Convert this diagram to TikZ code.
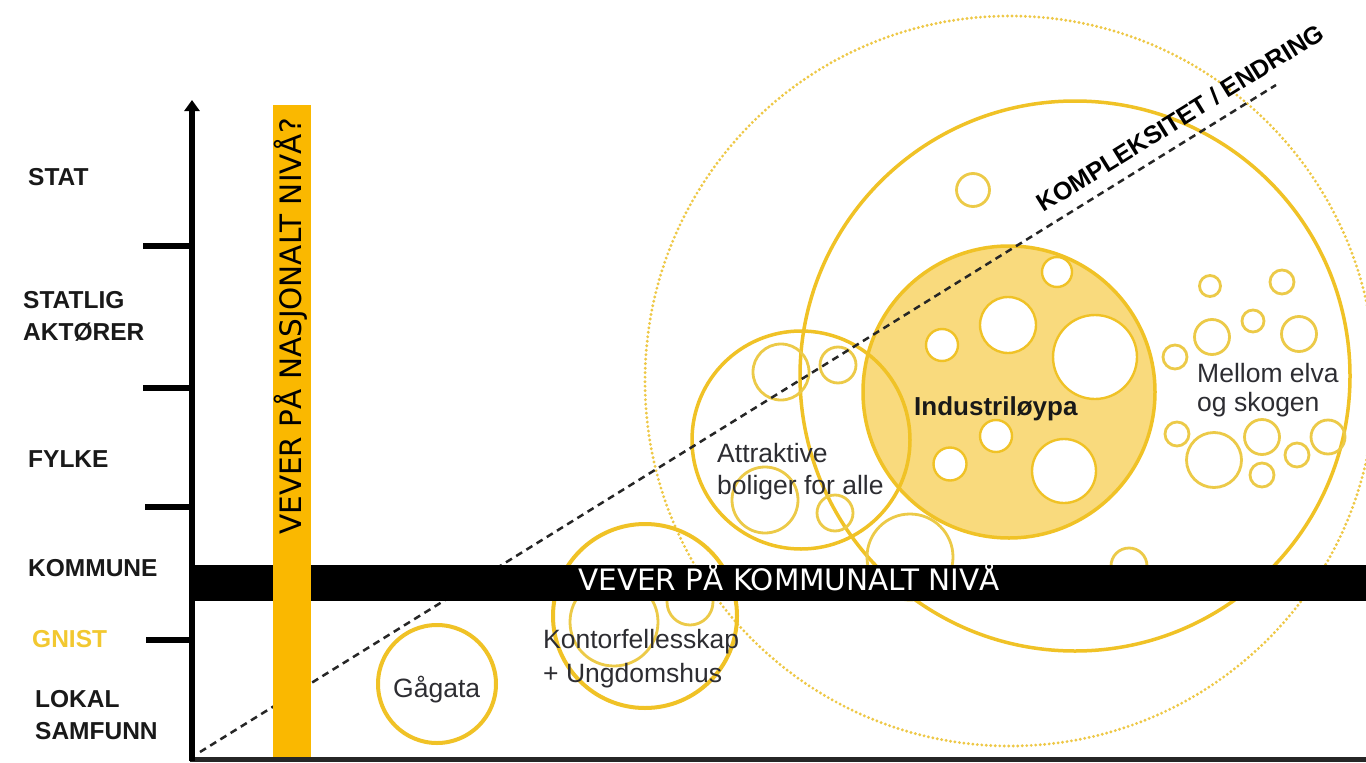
\documentclass[tikz,border=0pt]{standalone}
\usepackage{fontspec}
\setmainfont{DejaVu Sans}
\newfontfamily\arialfont{Liberation Sans}
\usetikzlibrary{arrows.meta}
\definecolor{gold}{RGB}{240,194,38}
\definecolor{goldthin}{RGB}{236,202,72}
\definecolor{goldfill}{RGB}{249,218,125}
\definecolor{dotgold}{RGB}{238,200,70}
\definecolor{barorange}{RGB}{250,184,0}
\definecolor{gnistcol}{RGB}{242,200,48}
\definecolor{labgray}{RGB}{45,45,50}
\begin{document}
\begin{tikzpicture}[x=1pt,y=-1pt,
  levellab/.style={anchor=west, inner sep=0pt, text=black!90, font=\arialfont\fontsize{24.5}{27}\selectfont\bfseries},
  circlab/.style={anchor=base west, inner sep=0pt, text=labgray, font=\arialfont\fontsize{26.5}{30}\selectfont},
  ring/.style={draw=gold, line width=3.5pt},
  thickring/.style={draw=gold, line width=4pt},
  thinring/.style={draw=goldthin, line width=2.8pt},
  hole/.style={draw=gold, fill=white, line width=2.4pt},
  tickmark/.style={line width=6pt, black},
  dotring/.style={draw=dotgold, line width=3.2pt, line cap=round, dash pattern=on 0pt off 4.5pt},
  diag/.style={line width=2.5pt, black!85, dash pattern=on 7pt off 5pt},
  bigtext/.style={inner sep=0pt, font=\fontsize{29.5}{32}\selectfont}
]
\useasboundingbox (0,0) rectangle (1366,763);
\fill[white] (0,0) rectangle (1366,763);

% big dotted circle
\draw[dotring] (1010,381) circle[radius=365pt];
% outer solid circle
\draw[ring] (1075,376) circle[radius=275pt];
% Industriloypa filled circle
\draw[ring, fill=goldfill] (1009,392) circle[radius=146pt];
\draw[hole] (1057,272) circle[radius=15pt];
\draw[hole] (1008,325) circle[radius=28pt];
\draw[hole] (942,345) circle[radius=16pt];
\draw[hole] (1095,357) circle[radius=42pt];
\draw[hole] (996,436) circle[radius=16pt];
\draw[hole] (950,464) circle[radius=16.5pt];
\draw[hole] (1064,471) circle[radius=32pt];
% small circle at top
\draw[thinring] (973,190) circle[radius=16.5pt];
% Attraktive cluster
\draw[ring] (801,440) circle[radius=109pt];
\draw[thinring] (781,372) circle[radius=28pt];
\draw[thinring] (838,365) circle[radius=18pt];
\draw[thinring] (765,500) circle[radius=33pt];
\draw[thinring] (835,513) circle[radius=18pt];
\draw[thinring] (910,557) circle[radius=43pt];
\draw[thinring] (1129,566) circle[radius=18pt];
% Mellom elva cluster
\draw[thinring] (1210,286) circle[radius=10.5pt];
\draw[thinring] (1282,282) circle[radius=12pt];
\draw[thinring] (1253,321) circle[radius=11pt];
\draw[thinring] (1212,337) circle[radius=17.5pt];
\draw[thinring] (1299,334) circle[radius=17.5pt];
\draw[thinring] (1175,357) circle[radius=12pt];
\draw[thinring] (1177,434) circle[radius=12pt];
\draw[thinring] (1214,460) circle[radius=27.5pt];
\draw[thinring] (1262,437) circle[radius=17.5pt];
\draw[thinring] (1297,455) circle[radius=12pt];
\draw[thinring] (1328,437) circle[radius=17pt];
\draw[thinring] (1262,475) circle[radius=12pt];
% Kontorfellesskap cluster
\draw[thickring] (645,616) circle[radius=92pt];
\draw[thinring] (614,622) circle[radius=44pt];
\draw[thinring] (690,602) circle[radius=23pt];
% Gagata
\draw[thickring] (437,684) circle[radius=59pt];

% circle labels
\node[circlab, text=black!90, font=\arialfont\fontsize{26}{30}\selectfont\bfseries] (ind) at (914,415) {Industriløypa};
\node[circlab] (mel1) at (1197,382) {Mellom elva};
\node[circlab] (mel2) at (1197,411) {og skogen};
\node[circlab] (att1) at (717,462) {Attraktive};
\node[circlab] (att2) at (717,494) {boliger for alle};
\node[circlab] (kon1) at (543,648) {Kontorfellesskap};
\node[circlab] (kon2) at (543,682) {+ Ungdomshus};
\node[circlab] (gag) at (393,697) {Gågata};

% diagonal dashed line with label
\coordinate (ds) at (200,752);
\coordinate (de) at (1276,85);
\draw[diag] (ds) -- (de)
  node[pos=0.922, sloped, above=12pt, inner sep=0pt, text=black, font=\arialfont\fontsize{25}{28}\selectfont\bfseries] (kompl) {KOMPLEKSITET / ENDRING};

% black municipal bar
\fill[black] (193,565) rectangle (1366,601);
\node[bigtext, anchor=base west, text=white] (kom) at (578,590) {VEVER PÅ KOMMUNALT NIVÅ};

% yellow national bar
\fill[barorange] (273,105) rectangle (311,760);
\node[bigtext, rotate=90, anchor=base west, text=black] (nas) at (301,535) {VEVER PÅ NASJONALT NIVÅ?};

% axes
\draw[line width=5pt, black!85] (190,759) -- (1366,759);
\draw[line width=6pt, black, -{Triangle[width=15pt,length=11pt]}] (192,761) -- (192,100);
\draw[tickmark] (143,246) -- (192,246);
\draw[tickmark] (143,388) -- (192,388);
\draw[tickmark] (145,507) -- (192,507);
\draw[tickmark] (146,640) -- (192,640);

% level labels
\node[levellab] (stat) at (28,177) {STAT};
\node[levellab] (statlig) at (23,300) {STATLIG};
\node[levellab] (aktorer) at (23,332) {AKTØRER};
\node[levellab] (fylke) at (28,459) {FYLKE};
\node[levellab] (kommune) at (28,568) {KOMMUNE};
\node[levellab, text=gnistcol] (gnist) at (32,639) {GNIST};
\node[levellab] (lokal) at (35,699) {LOKAL};
\node[levellab] (samfunn) at (35,731) {SAMFUNN};
\end{tikzpicture}
\end{document}
